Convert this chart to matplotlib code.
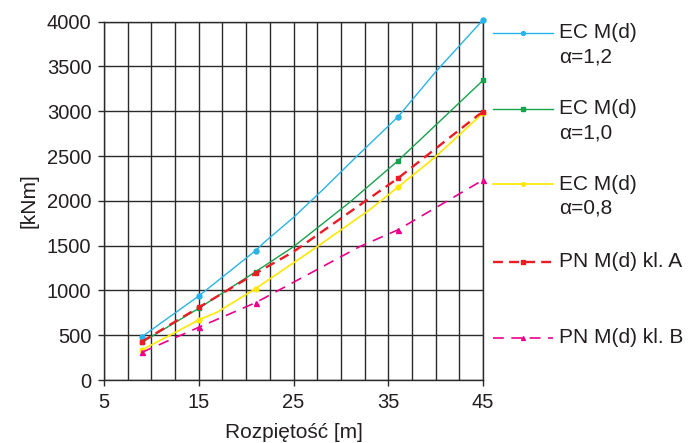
import matplotlib.pyplot as plt
from matplotlib.lines import Line2D
from matplotlib.ticker import MultipleLocator

plt.rcParams['font.family'] = ['Liberation Sans', 'DejaVu Sans']

# values (span [m] -> moment [kNm])
x_ec12 = [9, 15, 21, 22, 25, 28, 32, 36, 40, 45]
y_ec12 = [483, 938, 1445, 1545, 1815, 2115, 2530, 2935, 3440, 4020]

x_ec10 = [9, 15, 21, 25, 31, 36, 41.5, 45]
y_ec10 = [420, 800, 1209, 1488, 1990, 2445, 2995, 3345]

x_ec08 = [9, 15, 17, 21, 27.5, 33, 36, 40, 45]
y_ec08 = [335, 670, 760, 1020, 1488, 1898, 2150, 2493, 2980]

x_pna = [9, 15, 21, 25, 33, 36, 44.5, 45]
y_pna = [428, 810, 1190, 1432, 2028, 2250, 2958, 2990]

x_pnb = [9, 15, 21, 32, 36, 45]
y_pnb = [309, 588, 863, 1490, 1675, 2233]

x_marks = [9, 15, 21, 36, 45]
x_ticks = [5, 15, 25, 35, 45]

labels = ["EC M(d)\nα=1,2", "EC M(d)\nα=1,0", "EC M(d)\nα=0,8",
          "PN M(d) kl. A", "PN M(d) kl. B"]

c_blue = '#27b4e8'
c_green = '#17a24d'
c_yellow = '#ffe800'
c_red = '#ec1c24'
c_mag = '#ec008c'
txt = '#231f20'

fig = plt.figure(figsize=(6.98, 4.43), dpi=100)
ax = fig.add_axes([104 / 698, 1 - 380 / 443, 379 / 698, 358.3 / 443])

def marks(xs):
    return [xs.index(v) for v in x_marks]

series = [
    (x_ec12, y_ec12, c_blue, '-', 'o', 3.6, 1.0, None),
    (x_ec10, y_ec10, c_green, '-', 's', 3.2, 1.0, None),
    (x_ec08, y_ec08, c_yellow, '-', 'o', 3.4, 1.2, None),
    (x_pna, y_pna, c_red, '--', 's', 3.0, 1.7, (4.2, 2.6)),
    (x_pnb, y_pnb, c_mag, '--', '^', 3.6, 1.2, (6.5, 4.5)),
]

for xs, ys, col, ls, mk, ms, lw, dash in series:
    ln, = ax.plot(xs, ys, color=col, ls=ls, lw=lw, marker=mk, ms=ms,
                  markevery=marks(xs), zorder=3, clip_on=False)
    if dash:
        ln.set_dashes(dash)

ax.set_xlim(5, 45)
ax.set_ylim(0, 4000)
ax.set_xticks(x_ticks)
ax.xaxis.set_minor_locator(MultipleLocator(2.5))
ax.yaxis.set_major_locator(MultipleLocator(500))
ax.grid(True, which='both', color='#2a2a2a', lw=1.0)
ax.set_axisbelow(True)
for s in ax.spines.values():
    s.set_color('#2a2a2a')
    s.set_linewidth(1.0)
ax.tick_params(which='major', length=4, width=1, color='#2a2a2a',
               labelsize=14.5, labelcolor=txt, pad=5)
ax.tick_params(which='minor', length=0)

ax.set_xlabel('Rozpiętość [m]', fontsize=15, color=txt, labelpad=8)
ax.set_ylabel('[kNm]', fontsize=15, color=txt, labelpad=6)

# legend drawn to the right of the plot
leg_y = [32.7, 109, 184.3, 261.7, 337.7]
for (xs, ys, col, ls, mk, ms, lw, dash), lab, yp in zip(series, labels, leg_y):
    yf = 1 - yp / 443
    h = Line2D([493 / 698, 553 / 698], [yf, yf], color=col, lw=lw, ls=ls,
               transform=fig.transFigure)
    if dash:
        h.set_dashes(dash)
    fig.add_artist(h)
    fig.add_artist(Line2D([523 / 698], [yf], color=col, marker=mk, ms=ms - 0.8,
                          transform=fig.transFigure))
    lines = lab.split('\n')
    fig.text(559 / 698, yf, lines[0], fontsize=15, color=txt, va='center')
    if len(lines) > 1:
        fig.text(559 / 698, 1 - (yp + 24) / 443, lines[1], fontsize=15,
                 color=txt, va='center')

fig.savefig('out.png', dpi=100)
